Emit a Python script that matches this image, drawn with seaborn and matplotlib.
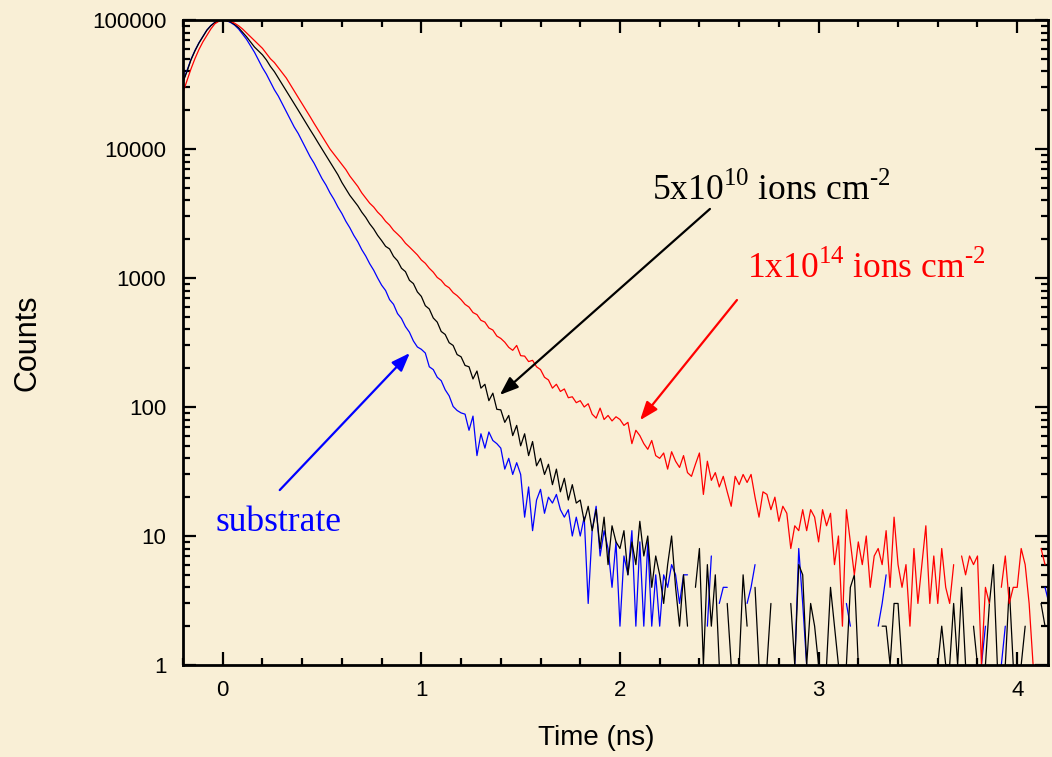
import numpy as np
import pandas as pd
import matplotlib
matplotlib.use("Agg")
import matplotlib.pyplot as plt
import seaborn as sns
from matplotlib.ticker import MultipleLocator, LogLocator, NullFormatter, FuncFormatter

# time channels (ns), one every 0.02 ns starting at -0.2
t_start = -0.2
t_step = 0.02

# counts, 10 channels per row
substrate = [
    33500, 40500, 49500, 58000, 66500, 74500, 83500, 90500, 95800, 99000,
    100000, 98900, 95500, 91200, 85100, 77600, 70800, 63100, 56200, 49000,
    42700, 38000, 33100, 28800, 25700, 22400, 19500, 17000, 14800, 13200,
    11500, 10000, 8710, 7760, 6760, 5890, 5250, 4570, 4070, 3550,
    3160, 2750, 2450, 2140, 1910, 1660, 1480, 1290, 1150, 1000,
    880, 800, 680, 625, 530, 485, 420, 380, 325, 292,
    280, 262, 205, 195, 170, 160, 136, 122, 101, 94,
    90, 88, 66, 85, 42, 62, 48, 64, 55, 52,
    48, 33, 40, 30, 37, 30, 14, 24, 11, 19,
    23, 15, 20, 18, 21, 16, 14, 16, 10, 14,
    10, 14, 3, 11, 17, 7, 11, 8, 4, 9,
    2, 7, 5, 11, 2, 9, 2, 9, 2, 5,
    2, 5, 4, 6, 5, 3, 5, 5, 0, 0,
    3, 0, 2, 7, 0, 3, 4, 4, 0, 0,
    6, 0, 3, 4, 6, 0, 0, 0, 5, 0,
    0, 1, 0, 0, 1, 8, 3, 1, 0, 0,
    0, 1, 0, 0, 1, 0, 0, 3, 2, 0,
    0, 1, 0, 0, 0, 2, 3, 5, 0, 0,
    0, 0, 1, 0, 0, 0, 1, 0, 0, 0,
    0, 0, 0, 1, 0, 0, 0, 0, 1, 0,
    0, 1, 2, 0, 0, 0, 1, 2, 0, 0,
    0, 5, 0, 0, 0, 1, 0, 4, 3,
]

dose_5e10 = [
    33100, 39800, 49000, 57500, 66100, 74100, 83200, 90200, 95500, 98900,
    100000, 98900, 96600, 92300, 87100, 80400, 74100, 67600, 61700, 57500,
    53700, 49000, 43700, 39800, 35500, 31600, 28200, 25100, 22400, 20000,
    17800, 15800, 14100, 12600, 11200, 10000, 8900, 7940, 7080, 6310,
    5500, 4900, 4370, 3980, 3630, 3240, 2950, 2630, 2400, 2140,
    1950, 1760, 1680, 1470, 1360, 1190, 1120, 960, 905, 780,
    720, 610, 575, 490, 455, 385, 365, 315, 300, 255,
    245, 210, 205, 165, 190, 140, 150, 112, 128, 96,
    95, 76, 86, 60, 72, 50, 62, 42, 54, 35,
    40, 30, 36, 25, 33, 22, 28, 19, 25, 18,
    19, 13, 17, 11, 16, 8, 14, 6, 12, 9,
    8, 11, 5, 9, 6, 13, 7, 10, 4, 7,
    5, 3, 6, 10, 4, 2, 5, 2, 0, 4,
    8, 1, 6, 2, 5, 1, 0, 3, 1, 0,
    1, 5, 2, 0, 4, 1, 0, 1, 3, 0,
    0, 1, 0, 3, 1, 6, 5, 1, 3, 2,
    1, 0, 1, 4, 2, 1, 0, 1, 4, 5,
    1, 0, 0, 1, 0, 0, 2, 2, 1, 3,
    3, 1, 0, 0, 1, 0, 0, 1, 0, 0,
    1, 2, 1, 1, 3, 1, 4, 1, 0, 2,
    1, 0, 1, 3, 6, 1, 0, 1, 4, 1,
    0, 1, 2, 0, 1, 0, 3, 2, 2,
]

dose_1e14 = [
    27500, 33900, 41700, 50100, 58900, 67600, 75900, 85100, 93300, 97700,
    100000, 99300, 97700, 94400, 90200, 85100, 79400, 74100, 69200, 64600,
    60300, 55000, 50100, 46800, 42700, 38900, 35500, 31600, 28200, 25100,
    22400, 20000, 17800, 15800, 14100, 12600, 11200, 10000, 9120, 8320,
    7590, 6920, 6170, 5620, 5130, 4570, 4170, 3800, 3550, 3240,
    3020, 2750, 2570, 2340, 2190, 2040, 1860, 1740, 1620, 1510,
    1380, 1300, 1190, 1110, 1010, 960, 880, 840, 770, 730,
    680, 625, 595, 540, 520, 470, 455, 410, 395, 355,
    340, 318, 290, 275, 300, 250, 248, 225, 230, 205,
    195, 170, 162, 140, 150, 132, 138, 118, 120, 108,
    112, 100, 106, 88, 82, 98, 80, 86, 78, 84,
    80, 72, 76, 52, 66, 60, 52, 47, 55, 42,
    40, 44, 33, 45, 38, 34, 42, 31, 29, 36,
    44, 21, 38, 27, 31, 24, 29, 22, 17, 29,
    25, 30, 26, 30, 20, 14, 22, 21, 16, 20,
    13, 17, 15, 8, 12, 11, 16, 11, 16, 14,
    9, 16, 12, 15, 6, 10, 2, 16, 9, 5,
    9, 6, 10, 4, 7, 8, 6, 11, 4, 14,
    6, 4, 6, 2, 8, 3, 6, 12, 3, 7,
    3, 8, 4, 3, 6, 0, 7, 5, 7, 6,
    7, 1, 4, 3, 0, 0, 4, 7, 3, 4,
    4, 8, 6, 3, 1, 0, 8, 6, 0,
]

time_ns = np.round(t_start + t_step * np.arange(len(substrate)), 2)

samples = ["substrate", "5e10", "1e14"]
colors = {"substrate": "#0000FF", "5e10": "#000000", "1e14": "#FF0000"}

df = pd.DataFrame({
    "time": np.tile(time_ns, 3),
    "counts": substrate + dose_5e10 + dose_1e14,
    "sample": np.repeat(samples, len(time_ns)),
})

bg = "#F9EFD6"
sns.set_theme(style="ticks")
plt.rcParams["font.family"] = ["Liberation Sans", "DejaVu Sans"]
plt.rcParams["mathtext.fontset"] = "custom"
plt.rcParams["mathtext.rm"] = "Liberation Serif"

fig = plt.figure(figsize=(10.52, 7.57), dpi=100, facecolor=bg)
ax = fig.add_axes([183 / 1052, 1 - 665 / 757, 865 / 1052, 645 / 757])
ax.set_facecolor(bg)

sns.lineplot(data=df, x="time", y="counts", hue="sample", hue_order=samples,
             palette=colors, estimator=None, sort=False, legend=False,
             linewidth=0.9, ax=ax)

ax.set_yscale("log", nonpositive="mask")
ax.set_ylim(1, 1e5)
ax.set_xlim(-0.2, 4.155)

ax.yaxis.set_major_locator(LogLocator(base=10, numticks=10))
ax.yaxis.set_minor_locator(LogLocator(base=10, subs=np.arange(2, 10), numticks=20))
ax.yaxis.set_major_formatter(FuncFormatter(lambda v, p: f"{v:.0f}"))
ax.yaxis.set_minor_formatter(NullFormatter())
ax.xaxis.set_major_locator(MultipleLocator(1))
ax.xaxis.set_minor_locator(MultipleLocator(0.2))

ax.tick_params(which="both", direction="in", top=True, right=True,
               width=1.6, color="black", labelcolor="black")
ax.tick_params(which="major", length=9.5, labelsize=16)
ax.tick_params(which="minor", length=5)
ax.tick_params(axis="x", pad=11)
ax.tick_params(axis="y", pad=12)
for s in ax.spines.values():
    s.set_linewidth(2)
    s.set_color("black")

ax.set_xlabel("Time (ns)", fontsize=20, color="black")
ax.set_ylabel("Counts", fontsize=22, color="black")
ax.xaxis.set_label_coords(0.4775, -0.093)
ax.yaxis.set_label_coords(-0.163, 0.5)

# annotations
serif = ["Liberation Serif", "DejaVu Serif"]
ax.text(2.161, 4024, r"5x10$^{\mathrm{10}}$ ions cm$^{\text{-2}}$", color="black",
        fontsize=25.5, family=serif, ha="left", va="baseline")
ax.text(2.64, 1000, r"1x10$^{\mathrm{14}}$ ions cm$^{\text{-2}}$", color="#FF0000",
        fontsize=25.5, family=serif, ha="left", va="baseline")
ax.text(-0.035, 10.9, "substrate", color="#0000FF",
        fontsize=25.5, family=serif, ha="left", va="baseline")

arrow = dict(arrowstyle="-|>,head_length=0.8,head_width=0.3", lw=1.6,
             shrinkA=0, shrinkB=0, mutation_scale=14)
ax.annotate("", xy=(1.395, 124), xytext=(2.453, 3430),
            arrowprops=dict(arrow, color="black"))
ax.annotate("", xy=(2.101, 79), xytext=(2.589, 675),
            arrowprops=dict(arrow, color="#FF0000"))
ax.annotate("", xy=(0.942, 262), xytext=(0.287, 22.7),
            arrowprops=dict(arrow, color="#0000FF"))

fig.savefig("out.png", dpi=100, facecolor=bg)
